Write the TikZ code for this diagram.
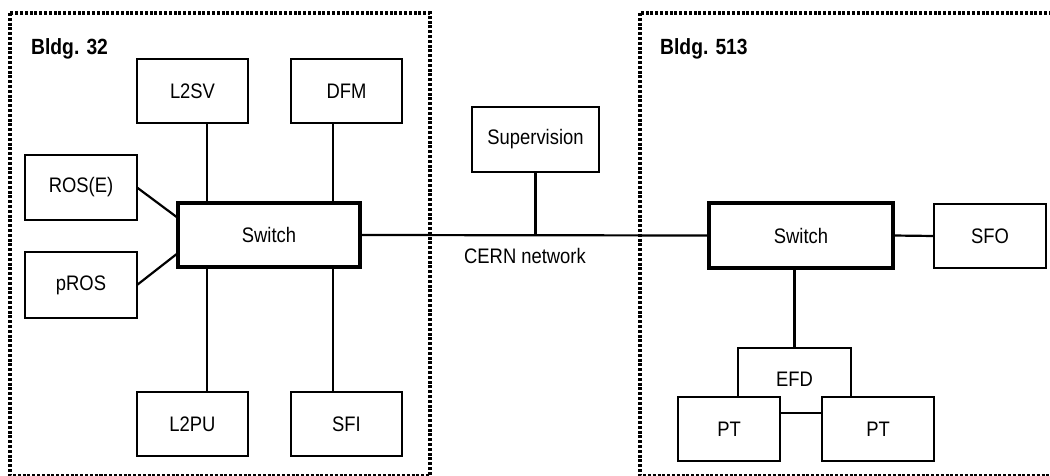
\documentclass[tikz,border=0pt]{standalone}
\usepackage{fontspec}
\setmainfont{Liberation Sans}[FakeStretch=0.876]
\begin{document}
\begin{tikzpicture}[x=1pt,y=-1pt,
  box/.style={draw,line width=2.1pt,fill=white,inner sep=0pt,outer sep=0pt,
    font=\fontsize{21}{23}\selectfont},
  swbox/.style={box,line width=4.2pt},
  conn/.style={line width=2.2pt},
  bldg/.style={draw,line width=3.2pt,dash pattern=on 3pt off 1.8pt},
  blab/.style={anchor=base west,inner sep=0pt,font=\fontsize{22}{24}\selectfont\bfseries}]
\useasboundingbox (0,0) rectangle (1050,476);
\fill[white] (0,0) rectangle (1050,476);
% building frames
\draw[bldg] (10,13) rectangle (430,475.5);
\draw[bldg] (640,13) rectangle (1053,475.5);
\node[blab] (b32) at (31,55) {Bldg. 32};
\node[blab] (b513) at (660,55) {Bldg. 513};
% left building
\node[box,minimum width=111pt,minimum height=64pt] (l2sv) at (192.5,91) {L2SV};
\node[box,minimum width=111pt,minimum height=64pt] (dfm) at (346.5,91) {DFM};
\node[box,minimum width=112pt,minimum height=65pt] (rose) at (81,187.5) {ROS(E)};
\node[box,minimum width=112pt,minimum height=66pt] (pros) at (81,285) {pROS};
\node[box,minimum width=111pt,minimum height=64pt] (l2pu) at (192.5,424) {L2PU};
\node[box,minimum width=111pt,minimum height=64pt] (sfi) at (346.5,424) {SFI};
% vertical connectors (behind the switch)
\draw[conn] ([xshift=14.5pt]l2sv.south) -- ([xshift=14.5pt]l2pu.north);
\draw[conn] ([xshift=-13.5pt]dfm.south) -- ([xshift=-13.5pt]sfi.north);
\node[swbox,minimum width=182pt,minimum height=64pt] (swl) at (269,235) {Switch};
\draw[conn] (rose.east) -- ([yshift=17pt]swl.west);
\draw[conn] (pros.east) -- ([yshift=-18pt]swl.west);
% network
\node[box,minimum width=127pt,minimum height=65pt] (sup) at (535.5,139.5) {Supervision};
\node[swbox,minimum width=184pt,minimum height=65pt] (swr) at (801,235.5) {Switch};
\node[box,minimum width=112pt,minimum height=64pt] (sfo) at (990,236) {SFO};
\draw[conn] (swl.east) -- (swr.west);
\coordinate (tap) at (sup.south |- swl.east);
\draw[conn] (sup.south) -- (tap);
\node[inner sep=0pt,font=\fontsize{21}{23}\selectfont] (cern) at (525,255.5) {CERN network};
\draw[conn] (swr.east) -- (sfo.west);
% right building
\node[box,minimum width=113pt,minimum height=65pt,text depth=0pt] (efd) at (794.5,380.5) {\raisebox{2pt}{EFD}};
\draw[conn] (efd.north |- swr.south) -- (efd.north);
\node[box,minimum width=102pt,minimum height=64pt] (pt1) at (729,429) {PT};
\node[box,minimum width=112pt,minimum height=64pt] (pt2) at (878,429) {PT};
\end{tikzpicture}
\end{document}
